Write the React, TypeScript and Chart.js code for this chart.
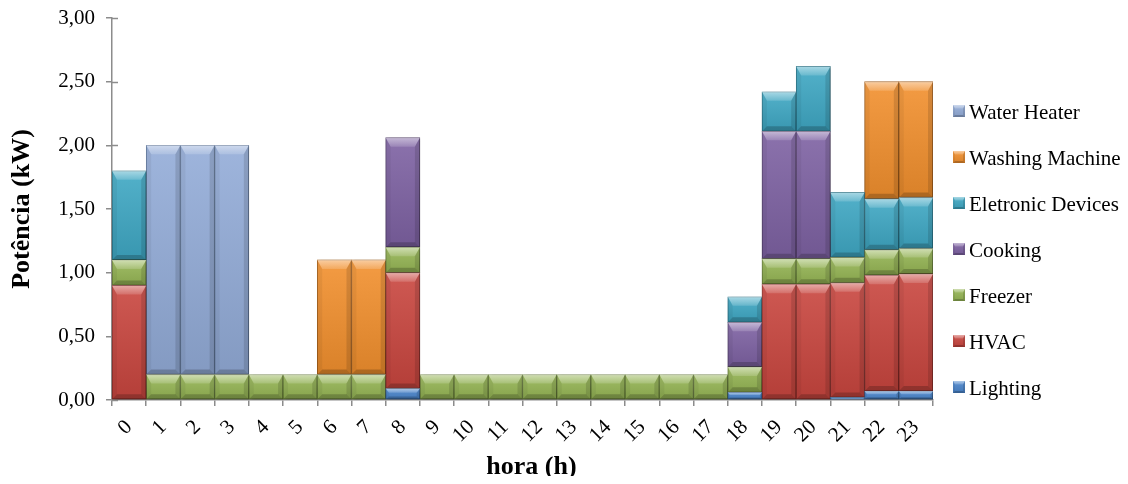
import { useEffect, useRef } from 'react';
import { Chart, registerables } from 'chart.js';

Chart.register(...registerables);

const hours = ['0', '1', '2', '3', '4', '5', '6', '7', '8', '9', '10', '11', '12', '13', '14', '15', '16', '17', '18', '19', '20', '21', '22', '23'];

// Power per appliance group (kW), stacked from the bottom up
const lighting = [0, 0, 0, 0, 0, 0, 0, 0, 0.09, 0, 0, 0, 0, 0, 0, 0, 0, 0, 0.06, 0, 0, 0.02, 0.07, 0.07];
const hvac = [0.9, 0, 0, 0, 0, 0, 0, 0, 0.91, 0, 0, 0, 0, 0, 0, 0, 0, 0, 0, 0.91, 0.91, 0.9, 0.91, 0.92];
const freezer = [0.2, 0.2, 0.2, 0.2, 0.2, 0.2, 0.2, 0.2, 0.2, 0.2, 0.2, 0.2, 0.2, 0.2, 0.2, 0.2, 0.2, 0.2, 0.2, 0.2, 0.2, 0.2, 0.2, 0.2];
const cooking = [0, 0, 0, 0, 0, 0, 0, 0, 0.86, 0, 0, 0, 0, 0, 0, 0, 0, 0, 0.35, 1.0, 1.0, 0, 0, 0];
const electronicDevices = [0.7, 0, 0, 0, 0, 0, 0, 0, 0, 0, 0, 0, 0, 0, 0, 0, 0, 0, 0.2, 0.31, 0.51, 0.51, 0.4, 0.4];
const washingMachine = [0, 0, 0, 0, 0, 0, 0.9, 0.9, 0, 0, 0, 0, 0, 0, 0, 0, 0, 0, 0, 0, 0, 0, 0.92, 0.91];
const waterHeater = [0, 1.8, 1.8, 1.8, 0, 0, 0, 0, 0, 0, 0, 0, 0, 0, 0, 0, 0, 0, 0, 0, 0, 0, 0, 0];

const seriesNames = ['Lighting', 'HVAC', 'Freezer', 'Cooking', 'Eletronic Devices', 'Washing Machine', 'Water Heater'];
const seriesValues = [lighting, hvac, freezer, cooking, electronicDevices, washingMachine, waterHeater];
const seriesColors = ['#4A85CC', '#C9463F', '#96B655', '#7E62A3', '#3FA8C4', '#F2902E', '#93ACD8'];
const seriesBorders = ['#2F5E96', '#8A2C28', '#657D36', '#56416F', '#277489', '#A85F18', '#60789F'];

const yTicks = [0, 0.5, 1, 1.5, 2, 2.5, 3];

const xTitle = 'hora (h)';
const yTitle = 'Potência (kW)';

const SERIF = '"Liberation Serif", "Times New Roman", serif';

function poly(ctx: CanvasRenderingContext2D, pts: number[][], fill: string | CanvasGradient) {
  ctx.beginPath();
  ctx.moveTo(pts[0][0], pts[0][1]);
  for (let i = 1; i < pts.length; i++) ctx.lineTo(pts[i][0], pts[i][1]);
  ctx.closePath();
  ctx.fillStyle = fill;
  ctx.fill();
}

// Beveled block look for one rectangle
function bevel(ctx: CanvasRenderingContext2D, left: number, top: number, right: number, bottom: number, scale = 1) {
  const w = right - left;
  const h = bottom - top;
  if (h < 1 || w < 1) return;
  const g = ctx.createLinearGradient(0, top, 0, bottom);
  g.addColorStop(0, 'rgba(255,255,255,0.10)');
  g.addColorStop(1, 'rgba(0,0,0,0.10)');
  ctx.fillStyle = g;
  ctx.fillRect(left, top, w, h);
  const dt = Math.min(9 * scale, h * 0.4);
  const ds = Math.min(5 * scale, w * 0.2, h * 0.3);
  const db = Math.min(5 * scale, h * 0.25);
  const tg = ctx.createLinearGradient(0, top, 0, top + dt);
  tg.addColorStop(0, 'rgba(255,255,255,0.5)');
  tg.addColorStop(1, 'rgba(255,255,255,0.15)');
  poly(ctx, [[left, top], [right, top], [right - ds, top + dt], [left + ds, top + dt]], tg);
  poly(ctx, [[left, bottom], [right, bottom], [right - ds, bottom - db], [left + ds, bottom - db]], 'rgba(0,0,0,0.2)');
  poly(ctx, [[left, top], [left + ds, top + dt], [left + ds, bottom - db], [left, bottom]], 'rgba(0,0,0,0.05)');
  poly(ctx, [[right, top], [right - ds, top + dt], [right - ds, bottom - db], [right, bottom]], 'rgba(0,0,0,0.12)');
}

const barStylePlugin = {
  id: 'barStyle',
  beforeDatasetsDraw(chart: any) {
    const ctx: CanvasRenderingContext2D = chart.ctx;
    const y = chart.scales.y;
    const area = chart.chartArea;
    // inner half of the cross tick marks on the value axis
    ctx.save();
    ctx.strokeStyle = '#8C8C8C';
    ctx.lineWidth = 1.5;
    yTicks.forEach((v) => {
      const py = Math.round(y.getPixelForValue(v)) + 0.5;
      ctx.beginPath();
      ctx.moveTo(area.left, py);
      ctx.lineTo(area.left + 6, py);
      ctx.stroke();
    });
    ctx.restore();
    ctx.save();
    ctx.shadowColor = 'rgba(0,0,0,0.28)';
    ctx.shadowBlur = 4;
    ctx.shadowOffsetX = 2;
    ctx.shadowOffsetY = 1;
  },
  afterDatasetsDraw(chart: any) {
    const ctx: CanvasRenderingContext2D = chart.ctx;
    ctx.restore();
    ctx.save();
    chart.data.datasets.forEach((_ds: any, i: number) => {
      const meta = chart.getDatasetMeta(i);
      meta.data.forEach((el: any) => {
        const p = el.getProps(['x', 'y', 'base', 'width'], true);
        if (p.y == null || isNaN(p.y)) return;
        const left = p.x - p.width / 2;
        const right = p.x + p.width / 2;
        const top = Math.min(p.y, p.base);
        const bottom = Math.max(p.y, p.base);
        bevel(ctx, left, top, right, bottom);
      });
    });
    ctx.restore();
  },
  afterDraw(chart: any) {
    const ctx: CanvasRenderingContext2D = chart.ctx;
    const area = chart.chartArea;
    ctx.save();
    // category axis title
    ctx.font = `bold 26px ${SERIF}`;
    ctx.fillStyle = '#000';
    ctx.textAlign = 'center';
    ctx.textBaseline = 'middle';
    ctx.fillText(xTitle, (area.left + area.right) / 2 + 9, 459);

    // legend on the right, top item is the top of the stack
    ctx.font = `21px ${SERIF}`;
    ctx.textAlign = 'left';
    const x0 = 945;
    const y0 = 105;
    const step = 46;
    for (let k = 0; k < seriesNames.length; k++) {
      const i = seriesNames.length - 1 - k;
      const cy = y0 + k * step;
      ctx.fillStyle = seriesColors[i];
      ctx.fillRect(x0, cy - 8, 12, 12);
      bevel(ctx, x0, cy - 8, x0 + 12, cy + 4, 0.4);
      ctx.fillStyle = '#000';
      ctx.fillText(seriesNames[i], x0 + 16, cy);
    }
    ctx.restore();
  },
};

export default function App() {
  const ref = useRef<HTMLCanvasElement | null>(null);

  useEffect(() => {
    if (!ref.current) return;
    const chart = new Chart(ref.current, {
      type: 'bar',
      data: {
        labels: hours,
        datasets: seriesNames.map((name, i) => ({
          label: name,
          data: seriesValues[i].map((v) => (v ? v : null)),
          backgroundColor: seriesColors[i],
          borderColor: seriesBorders[i],
          borderWidth: 1,
          borderSkipped: false,
          barPercentage: 1,
          categoryPercentage: 1,
        })),
      },
      plugins: [barStylePlugin],
      options: {
        responsive: false,
        animation: false,
        layout: { padding: { top: 10, right: 187, bottom: 0, left: 0 } },
        plugins: {
          legend: { display: false },
          tooltip: { enabled: false },
        },
        scales: {
          x: {
            stacked: true,
            grid: { display: true, drawOnChartArea: false, drawTicks: true, tickLength: 6, color: '#8C8C8C', lineWidth: 1.5 },
            border: { display: true, color: '#8C8C8C', width: 1.5 },
            ticks: {
              color: '#000',
              font: { family: SERIF, size: 21 },
              minRotation: 45,
              maxRotation: 45,
              padding: 9,
              autoSkip: false,
            },
            afterFit: (s: any) => {
              s.height = 76;
              s.paddingLeft = 0;
              s.paddingRight = 0;
            },
          },
          y: {
            stacked: true,
            min: 0,
            max: 3,
            grid: { display: true, drawOnChartArea: false, drawTicks: true, tickLength: 6, color: '#8C8C8C', lineWidth: 1.5 },
            border: { display: true, color: '#8C8C8C', width: 1.5 },
            ticks: {
              stepSize: 0.5,
              color: '#000',
              font: { family: SERIF, size: 21 },
              padding: 11,
              callback: (v: any) => Number(v).toFixed(2).replace('.', ','),
            },
            title: {
              display: true,
              text: yTitle,
              color: '#000',
              font: { family: SERIF, size: 26, weight: 'bold', lineHeight: 1.1 },
              padding: 0,
            },
            afterFit: (s: any) => {
              s.width = 104;
              s.paddingTop = 0;
              s.paddingBottom = 0;
            },
          },
        },
      },
    });
    return () => chart.destroy();
  }, []);

  return <canvas ref={ref} width={1112} height={468} style={{ display: 'block' }} />;
}
